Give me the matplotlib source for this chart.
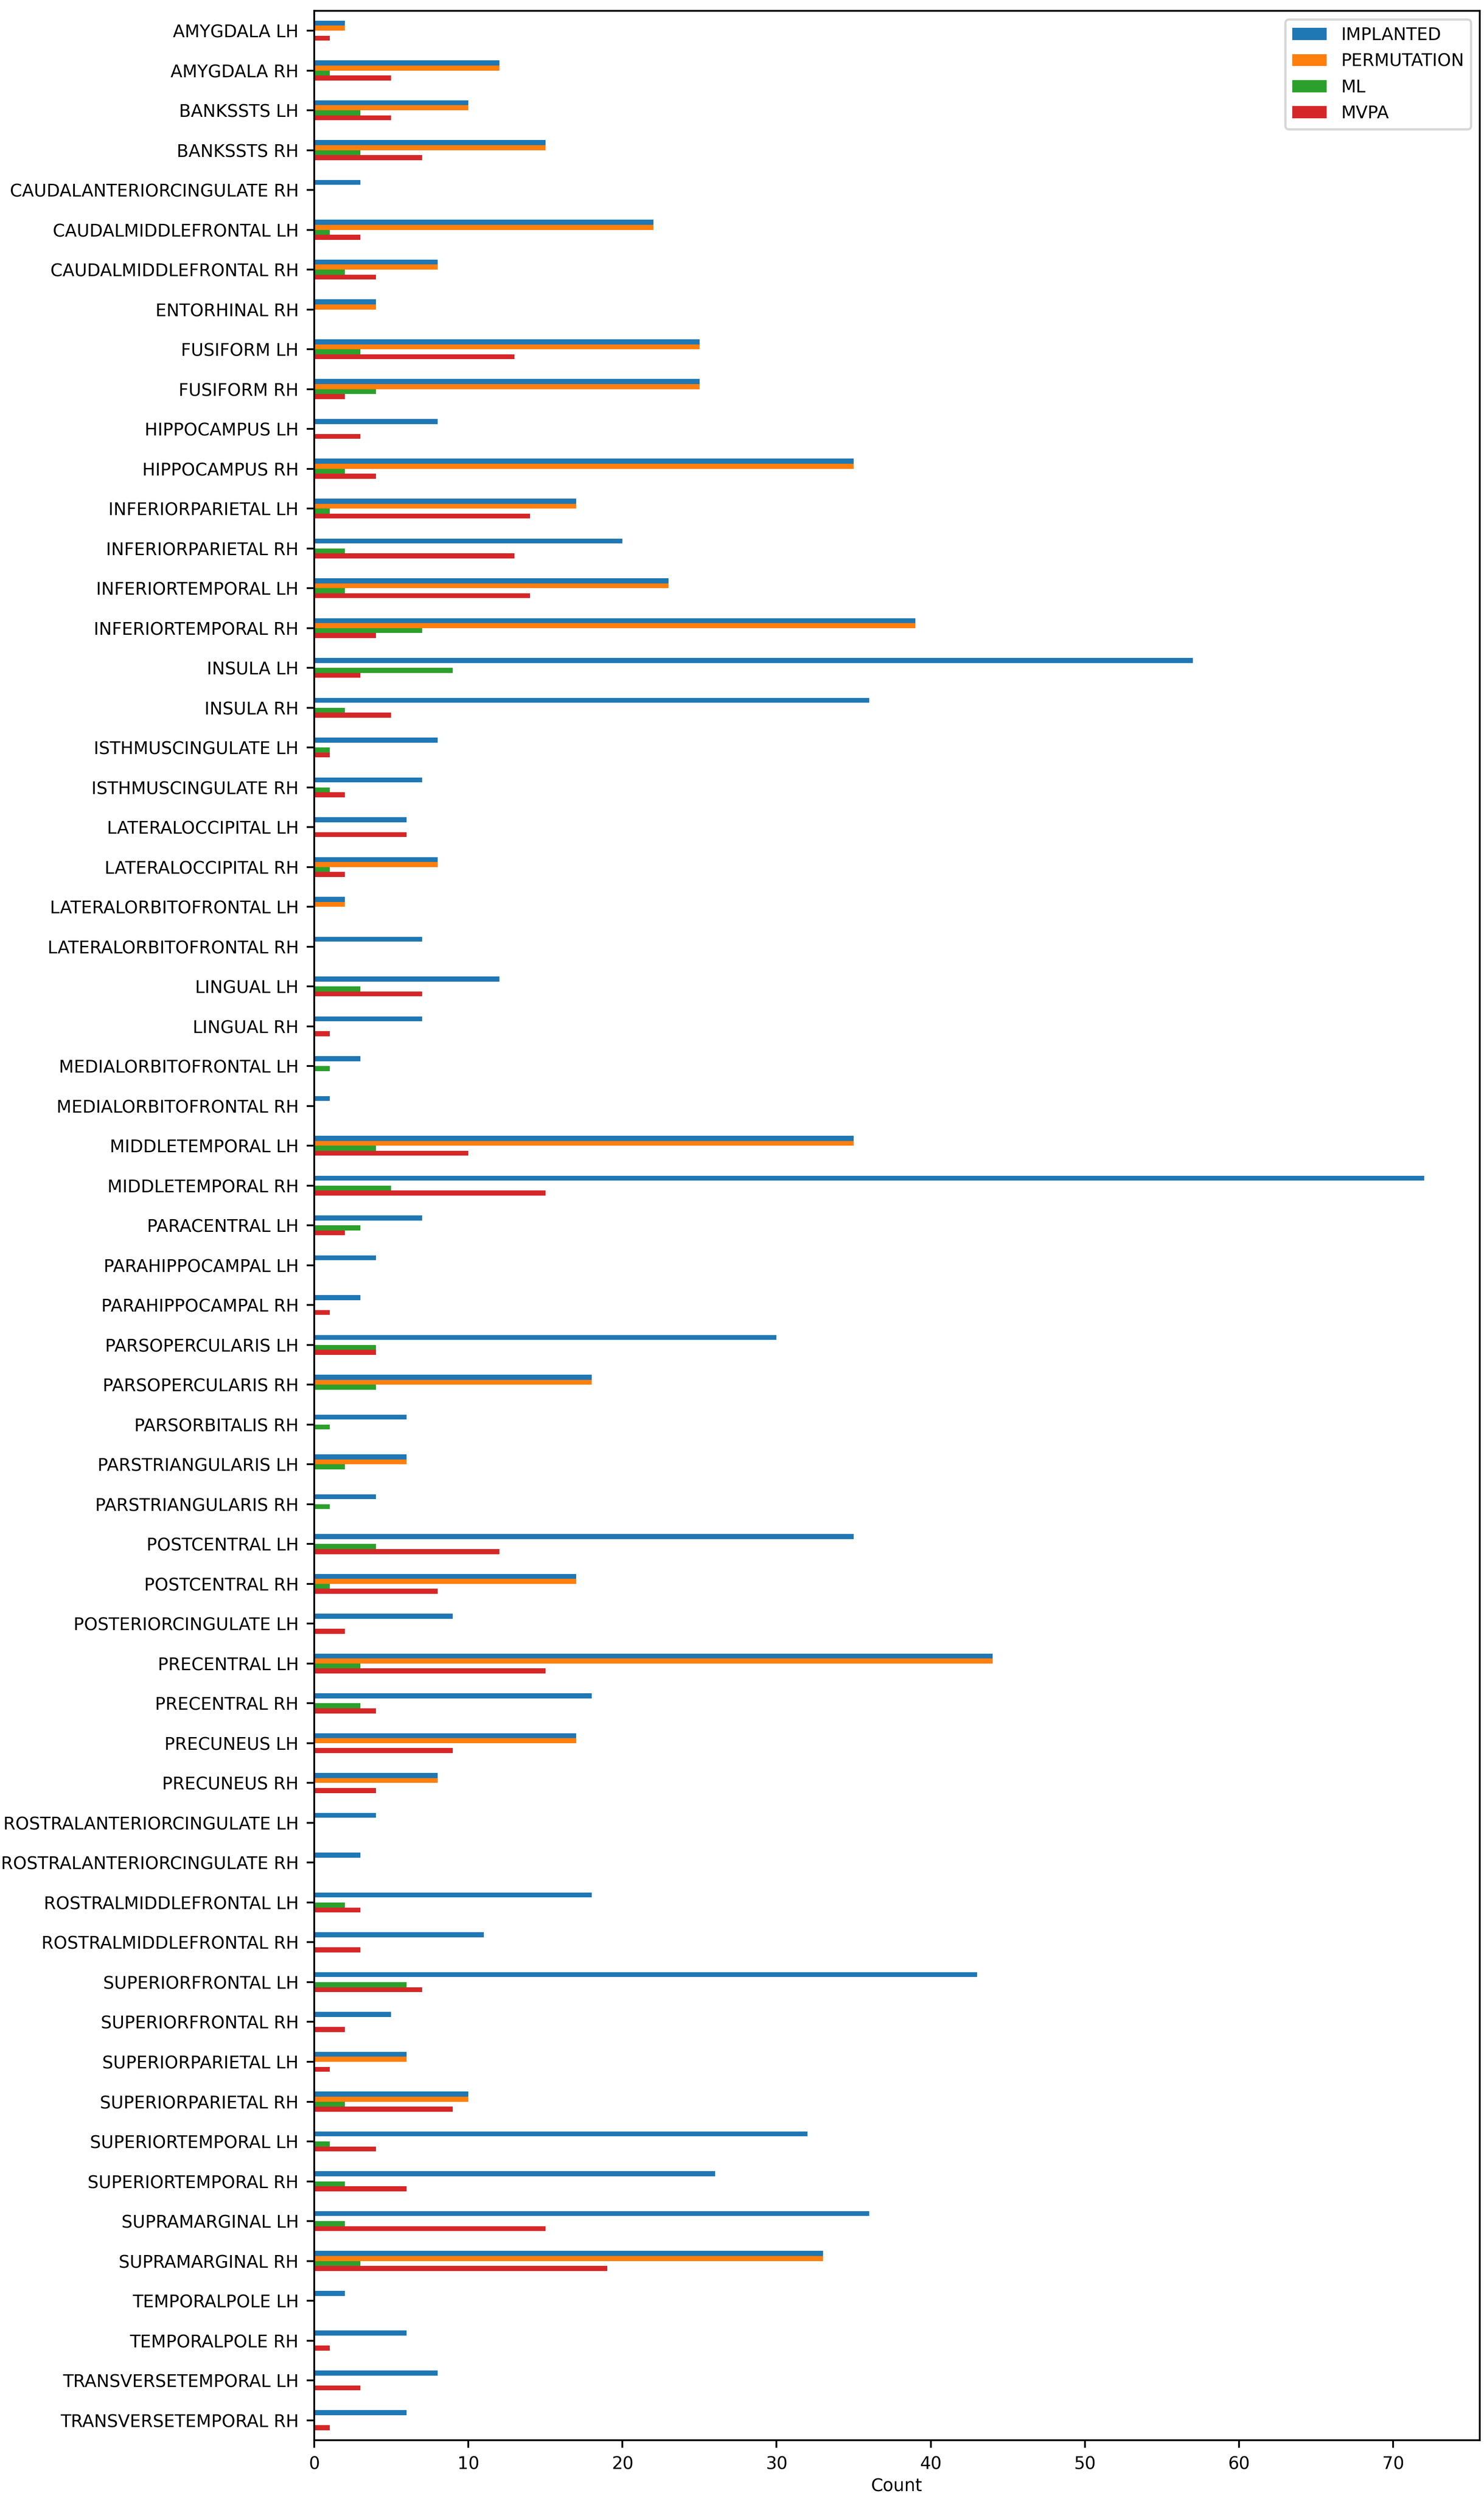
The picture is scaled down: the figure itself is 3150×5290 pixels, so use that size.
"""
Electrode counts per brain region, grouped horizontal bars.
"""
import numpy as np
import matplotlib
matplotlib.use("Agg")
import matplotlib.pyplot as plt

regions = [
    "AMYGDALA LH", "AMYGDALA RH", "BANKSSTS LH", "BANKSSTS RH",
    "CAUDALANTERIORCINGULATE RH", "CAUDALMIDDLEFRONTAL LH", "CAUDALMIDDLEFRONTAL RH",
    "ENTORHINAL RH", "FUSIFORM LH", "FUSIFORM RH", "HIPPOCAMPUS LH", "HIPPOCAMPUS RH",
    "INFERIORPARIETAL LH", "INFERIORPARIETAL RH", "INFERIORTEMPORAL LH",
    "INFERIORTEMPORAL RH", "INSULA LH", "INSULA RH", "ISTHMUSCINGULATE LH",
    "ISTHMUSCINGULATE RH", "LATERALOCCIPITAL LH", "LATERALOCCIPITAL RH",
    "LATERALORBITOFRONTAL LH", "LATERALORBITOFRONTAL RH", "LINGUAL LH", "LINGUAL RH",
    "MEDIALORBITOFRONTAL LH", "MEDIALORBITOFRONTAL RH", "MIDDLETEMPORAL LH",
    "MIDDLETEMPORAL RH", "PARACENTRAL LH", "PARAHIPPOCAMPAL LH", "PARAHIPPOCAMPAL RH",
    "PARSOPERCULARIS LH", "PARSOPERCULARIS RH", "PARSORBITALIS RH",
    "PARSTRIANGULARIS LH", "PARSTRIANGULARIS RH", "POSTCENTRAL LH", "POSTCENTRAL RH",
    "POSTERIORCINGULATE LH", "PRECENTRAL LH", "PRECENTRAL RH", "PRECUNEUS LH",
    "PRECUNEUS RH", "ROSTRALANTERIORCINGULATE LH", "ROSTRALANTERIORCINGULATE RH",
    "ROSTRALMIDDLEFRONTAL LH", "ROSTRALMIDDLEFRONTAL RH", "SUPERIORFRONTAL LH",
    "SUPERIORFRONTAL RH", "SUPERIORPARIETAL LH", "SUPERIORPARIETAL RH",
    "SUPERIORTEMPORAL LH", "SUPERIORTEMPORAL RH", "SUPRAMARGINAL LH", "SUPRAMARGINAL RH",
    "TEMPORALPOLE LH", "TEMPORALPOLE RH", "TRANSVERSETEMPORAL LH", "TRANSVERSETEMPORAL RH",
]

implanted = [2, 12, 10, 15, 3, 22, 8, 4, 25, 25, 8, 35, 17, 20, 23, 39, 57, 36, 8, 7,
             6, 8, 2, 7, 12, 7, 3, 1, 35, 72, 7, 4, 3, 30, 18, 6, 6, 4, 35, 17,
             9, 44, 18, 17, 8, 4, 3, 18, 11, 43, 5, 6, 10, 32, 26, 36, 33, 2, 6, 8, 6]
permutation = [2, 12, 10, 15, 0, 22, 8, 4, 25, 25, 0, 35, 17, 0, 23, 39, 0, 0, 0, 0,
               0, 8, 2, 0, 0, 0, 0, 0, 35, 0, 0, 0, 0, 0, 18, 0, 6, 0, 0, 17,
               0, 44, 0, 17, 8, 0, 0, 0, 0, 0, 0, 6, 10, 0, 0, 0, 33, 0, 0, 0, 0]
ml = [0, 1, 3, 3, 0, 1, 2, 0, 3, 4, 0, 2, 1, 2, 2, 7, 9, 2, 1, 1,
      0, 1, 0, 0, 3, 0, 1, 0, 4, 5, 3, 0, 0, 4, 4, 1, 2, 1, 4, 1,
      0, 3, 3, 0, 0, 0, 0, 2, 0, 6, 0, 0, 2, 1, 2, 2, 3, 0, 0, 0, 0]
mvpa = [1, 5, 5, 7, 0, 3, 4, 0, 13, 2, 3, 4, 14, 13, 14, 4, 3, 5, 1, 2,
        6, 2, 0, 0, 7, 1, 0, 0, 10, 15, 2, 0, 1, 4, 0, 0, 0, 0, 12, 8,
        2, 15, 4, 9, 4, 0, 0, 3, 3, 7, 2, 1, 9, 4, 6, 15, 19, 0, 1, 3, 1]

series_names = ["IMPLANTED", "PERMUTATION", "ML", "MVPA"]
series_values = [implanted, permutation, ml, mvpa]

plt.rcParams["font.size"] = 7.85

fig = plt.figure(figsize=(3150 / 337.5, 5290 / 337.5), dpi=337.5)
ax = fig.add_axes([0.2117, 0.0212, 0.7853, 0.9745])

pos = np.arange(len(regions))
bar_w = 0.125
for i, (name, vals) in enumerate(zip(series_names, series_values)):
    offset = (i - 1.5) * bar_w
    ax.barh(pos + offset, vals, height=bar_w, color=f"C{i}", label=name)

ax.set_yticks(pos)
ax.set_yticklabels(regions)
ax.set_ylim(len(regions) - 0.5, -0.5)
ax.set_xlim(0, max(implanted) * 1.05)
ax.set_xlabel("Count", labelpad=2)
ax.legend(loc="upper right")

fig.savefig("out.png", dpi=337.5)
